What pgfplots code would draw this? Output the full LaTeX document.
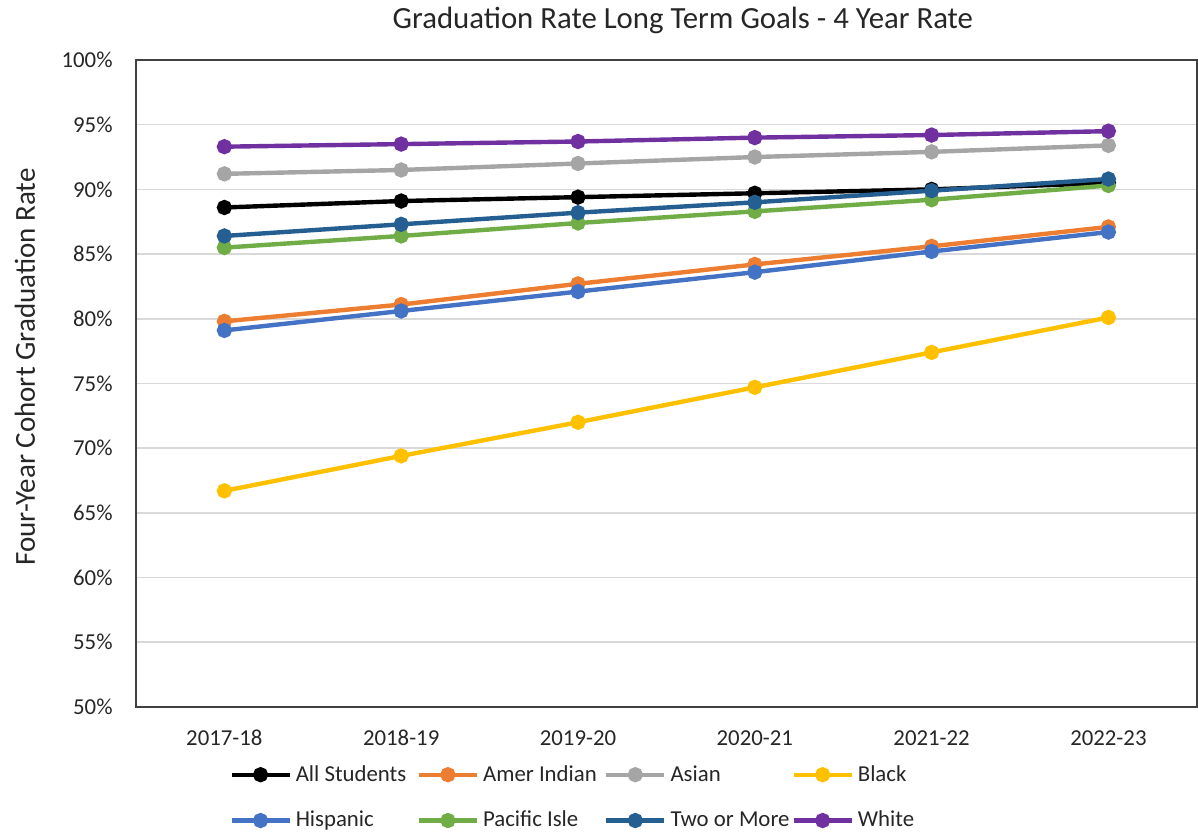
\documentclass[border=0pt]{standalone}
\usepackage{pgfplots}
\pgfplotsset{compat=1.18}
\usepackage{fontspec}
\setmainfont{Carlito}
\definecolor{cAll}{HTML}{000000}
\definecolor{cAmer}{HTML}{ED7D31}
\definecolor{cAsian}{HTML}{A5A5A5}
\definecolor{cBlack}{HTML}{FFC000}
\definecolor{cHisp}{HTML}{4472C4}
\definecolor{cPac}{HTML}{70AD47}
\definecolor{cTwo}{HTML}{255E91}
\definecolor{cWhite}{HTML}{7030A0}
\definecolor{txt}{HTML}{262626}
\definecolor{grid}{HTML}{D9D9D9}
\definecolor{frame}{HTML}{404040}
\begin{document}
\begin{tikzpicture}
\path (-68pt,-64.5pt) rectangle (531pt,352.5pt);
\begin{axis}[
  scale only axis,
  width=530.5pt, height=323.5pt,
  xmin=-0.5, xmax=5.5,
  ymin=50, ymax=100,
  xtick={0,1,2,3,4,5},
  xticklabels={2017-18,2018-19,2019-20,2020-21,2021-22,2022-23},
  ytick={50,55,60,65,70,75,80,85,90,95,100},
  yticklabels={50\%,55\%,60\%,65\%,70\%,75\%,80\%,85\%,90\%,95\%,100\%},
  tick style={draw=none},
  axis line style={draw=frame, line width=1.2pt},
  ymajorgrids,
  grid style={draw=grid, line width=0.8pt},
  ticklabel style={font=\fontsize{11.4}{13}\selectfont, text=txt},
  xticklabel style={anchor=base, inner sep=0pt, yshift=-19.5pt},
  yticklabel style={anchor=east, inner sep=0pt, xshift=-11.5pt},
  every axis plot/.append style={line width=2.2pt, mark=*, mark size=2.7pt},
  legend columns=4,
  legend style={draw=none, fill=none, at={(46.5pt,-27pt)}, anchor=north west,
    font=\fontsize{11.4}{13}\selectfont, text=txt, row sep=9.5pt,
    /tikz/every even column/.append style={column sep=0pt},
    inner sep=0pt},
  legend cell align=left,
  legend image code/.code={
    \draw[mark repeat=2, mark phase=2] plot coordinates {(0pt,0pt) (14.5pt,0pt) (29pt,0pt)};
  },
]
\addplot[color=cAll, mark options={fill=cAll}] coordinates {(0,88.6) (1,89.1) (2,89.4) (3,89.7) (4,90.0) (5,90.5)};
\addlegendentry{\makebox[58.5pt][l]{All Students}}
\addplot[color=cAmer, mark options={fill=cAmer}] coordinates {(0,79.8) (1,81.1) (2,82.7) (3,84.2) (4,85.6) (5,87.1)};
\addlegendentry{\makebox[58.5pt][l]{Amer Indian}}
\addplot[color=cAsian, mark options={fill=cAsian}] coordinates {(0,91.2) (1,91.5) (2,92.0) (3,92.5) (4,92.9) (5,93.4)};
\addlegendentry{\makebox[58.5pt][l]{Asian}}
\addplot[color=cBlack, mark options={fill=cBlack}] coordinates {(0,66.7) (1,69.4) (2,72.0) (3,74.7) (4,77.4) (5,80.1)};
\addlegendentry{\makebox[58.5pt][l]{Black}}
\addplot[color=cHisp, mark options={fill=cHisp}] coordinates {(0,79.1) (1,80.6) (2,82.1) (3,83.6) (4,85.2) (5,86.7)};
\addlegendentry{\makebox[58.5pt][l]{Hispanic}}
\addplot[color=cPac, mark options={fill=cPac}] coordinates {(0,85.5) (1,86.4) (2,87.4) (3,88.3) (4,89.2) (5,90.3)};
\addlegendentry{\makebox[58.5pt][l]{Pacific Isle}}
\addplot[color=cTwo, mark options={fill=cTwo}] coordinates {(0,86.4) (1,87.3) (2,88.2) (3,89.0) (4,89.9) (5,90.8)};
\addlegendentry{\makebox[58.5pt][l]{Two or More}}
\addplot[color=cWhite, mark options={fill=cWhite}] coordinates {(0,93.3) (1,93.5) (2,93.7) (3,94.0) (4,94.2) (5,94.5)};
\addlegendentry{\makebox[58.5pt][l]{White}}
\end{axis}
\node[text=txt, font=\fontsize{15.4}{18}\selectfont] at (273.5pt,343.5pt) {Graduation Rate Long Term Goals - 4 Year Rate};
\node[text=txt, font=\fontsize{14.5}{17}\selectfont, rotate=90] at (-55.5pt,170pt) {Four-Year Cohort Graduation Rate};
\end{tikzpicture}
\end{document}
